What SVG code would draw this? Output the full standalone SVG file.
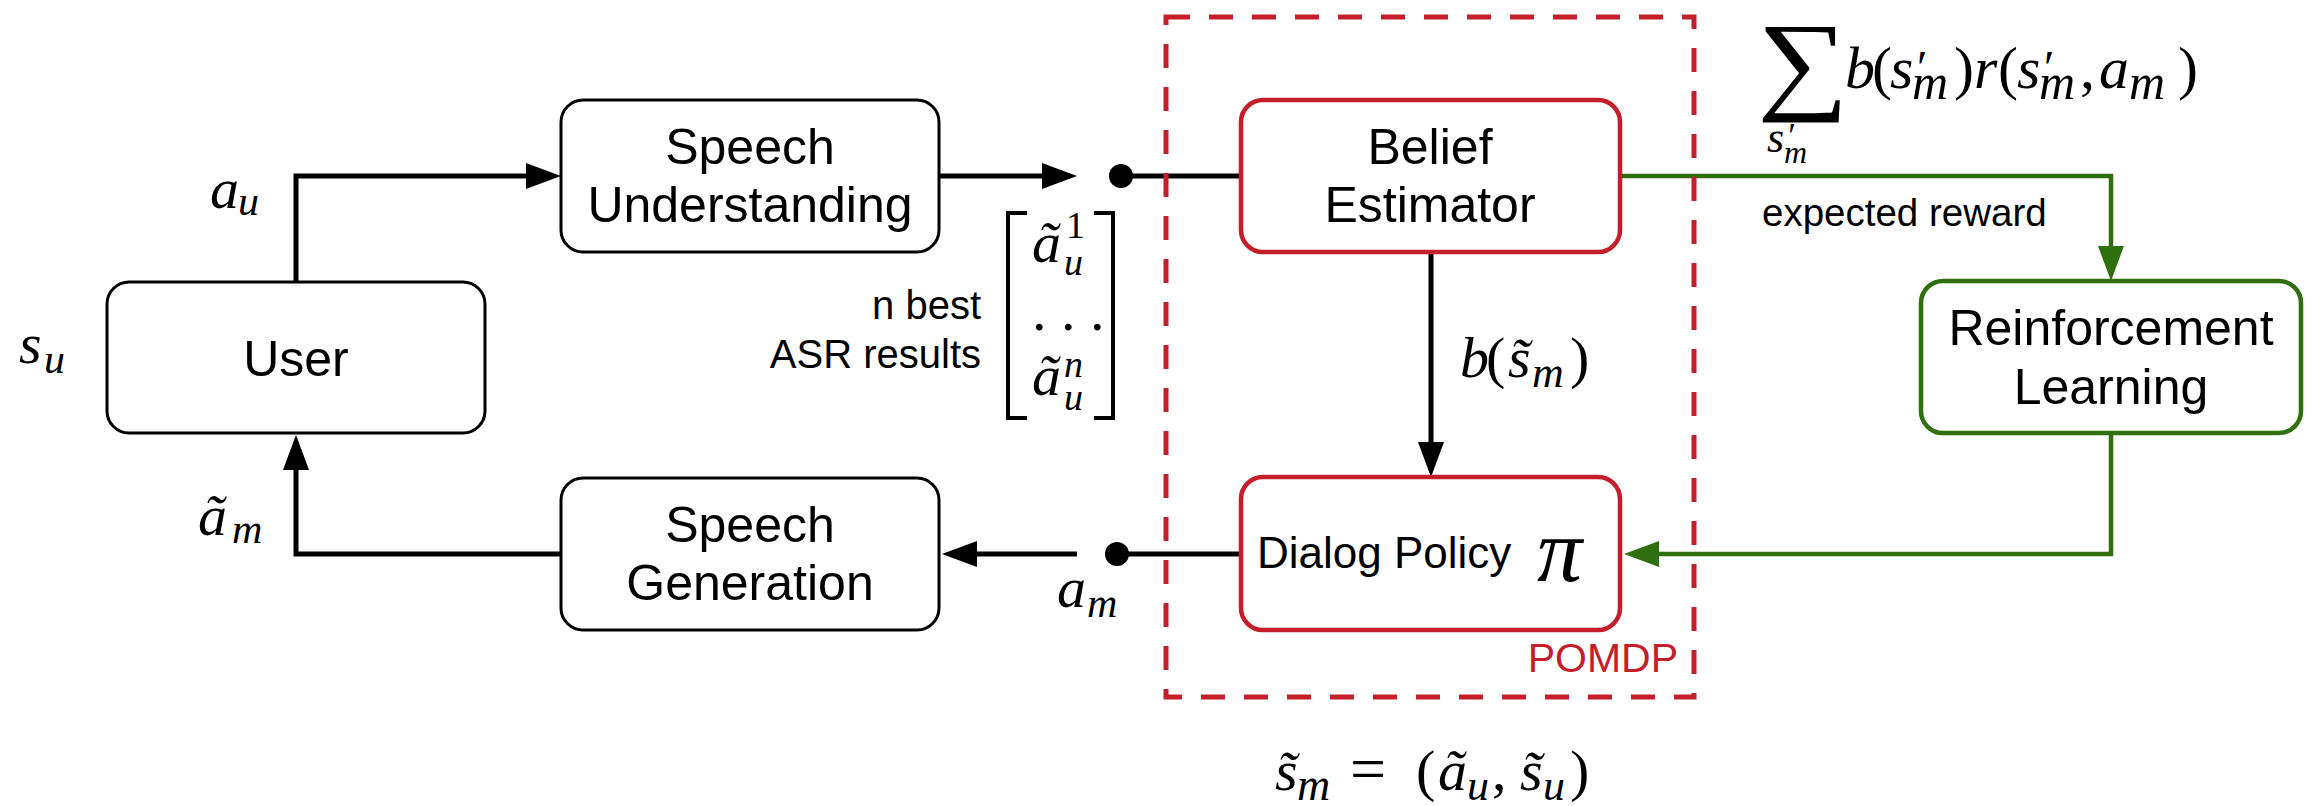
<svg xmlns="http://www.w3.org/2000/svg" width="2313" height="806" viewBox="0 0 2313 806">
<defs>
<style>
.box{fill:#fff;stroke:#000;stroke-width:3}
.rbox{fill:#fff;stroke:#C41E2A;stroke-width:4.5}
.gbox{fill:#fff;stroke:#2F6F0F;stroke-width:4.5}
.lbl{font-family:"Liberation Sans",Arial,sans-serif;font-size:50px;fill:#000;text-anchor:middle}
.sm{font-family:"Liberation Sans",Arial,sans-serif;font-size:40px;fill:#000}
.m{font-family:"Liberation Serif","Times New Roman",serif;font-style:italic;font-size:58px;fill:#000}
.f{font-size:60px}
.up{font-style:normal}
.sub{font-size:42px}
.k{fill:none;stroke:#000;stroke-width:5}
.g{fill:none;stroke:#2F6F0F;stroke-width:4.5}
</style>
<marker id="ab" markerUnits="userSpaceOnUse" markerWidth="36" markerHeight="26" refX="0" refY="13" orient="auto">
<path d="M0,0 L35,13 L0,26 z" fill="#000"/>
</marker>
<marker id="ag" markerUnits="userSpaceOnUse" markerWidth="36" markerHeight="26" refX="0" refY="13" orient="auto">
<path d="M0,0 L35,13 L0,26 z" fill="#2F6F0F"/>
</marker>
</defs>
<rect width="2313" height="806" fill="#fff"/>

<g id="connectors">
<path class="k" d="M296,282 V176 H526" marker-end="url(#ab)"/>
<path class="k" d="M940,176 H1042" marker-end="url(#ab)"/>
<path class="k" d="M1121,176 H1241"/>
<circle cx="1121" cy="176" r="12" fill="#000"/>
<path class="k" d="M1431,252 V442" marker-end="url(#ab)"/>
<path class="g" d="M1620,176 H2111 V246" marker-end="url(#ag)"/>
<path class="g" d="M2111,433 V554 H1659" marker-end="url(#ag)"/>
<path class="k" d="M1241,554 H1117"/>
<circle cx="1117" cy="554" r="12" fill="#000"/>
<path class="k" d="M1077,554 H977" marker-end="url(#ab)"/>
<path class="k" d="M561,554 H296 V470" marker-end="url(#ab)"/>
</g>

<g id="user">
<rect class="box" x="107" y="282" width="378" height="151" rx="22"/>
<text class="lbl" x="296" y="376">User</text>
</g>
<g id="speech-understanding">
<rect class="box" x="561" y="100" width="378" height="152" rx="22"/>
<text class="lbl" x="750" y="164">Speech</text>
<text class="lbl" x="750" y="222">Understanding</text>
</g>
<g id="speech-generation">
<rect class="box" x="561" y="478" width="378" height="152" rx="22"/>
<text class="lbl" x="750" y="542">Speech</text>
<text class="lbl" x="750" y="600">Generation</text>
</g>
<g id="belief-estimator">
<rect class="rbox" x="1241" y="100" width="379" height="152" rx="22"/>
<text class="lbl" x="1430" y="164">Belief</text>
<text class="lbl" x="1430" y="222">Estimator</text>
</g>
<g id="dialog-policy">
<rect class="rbox" x="1241" y="477" width="379" height="153" rx="22"/>
<text class="lbl" x="1257" y="568" style="font-size:44px;text-anchor:start">Dialog Policy</text>
<text class="m" x="1537" y="581" style="font-size:90px">π</text>
</g>
<g id="reinforcement-learning">
<rect class="gbox" x="1921" y="281" width="380" height="152" rx="22"/>
<text class="lbl" x="2111" y="345">Reinforcement</text>
<text class="lbl" x="2111" y="404">Learning</text>
</g>
<g id="pomdp">
<rect x="1166" y="17" width="528" height="680" fill="none" stroke="#C41E2A" stroke-width="5" stroke-dasharray="24 19"/>
<text class="sm" x="1678" y="672" style="font-size:41px;fill:#C41E2A;text-anchor:end">POMDP</text>
</g>

<g id="labels">
<text class="m" x="210" y="208">a<tspan class="sub" x="238" y="215">u</tspan></text>
<text class="m" x="19" y="363">s<tspan class="sub" x="44" y="373">u</tspan></text>
<text class="m" x="198" y="535">ã<tspan class="sub" x="232" y="543">m</tspan></text>
<text class="m" x="1057" y="607">a<tspan class="sub" x="1087" y="617">m</tspan></text>
<text class="m" x="1460" y="377">b<tspan class="up" x="1486">(</tspan><tspan x="1508">s̃</tspan><tspan class="sub" x="1532" y="387" style="font-size:44px">m</tspan><tspan class="up" x="1570" y="377">)</tspan></text>
<text class="sm" x="981" y="319" text-anchor="end">n best</text>
<text class="sm" x="981" y="368" text-anchor="end">ASR results</text>
<path class="k" d="M1027,213 H1008 V418 H1027 M1094,213 H1113 V418 H1094" style="stroke-width:4"/>
<text class="m" x="1032" y="262">ã</text>
<text class="m up" x="1066" y="238" style="font-size:38px">1</text>
<text class="m" x="1064" y="275" style="font-size:38px">u</text>
<text class="m up" x="1032" y="330">. . .</text>
<text class="m" x="1032" y="395">ã</text>
<text class="m" x="1064" y="377" style="font-size:38px">n</text>
<text class="m" x="1064" y="410" style="font-size:38px">u</text>
<text class="sm" x="1762" y="226" style="font-size:38.5px">expected reward</text>
<text class="m up" transform="translate(1757,99) scale(1.17,1)" x="0" y="0" style="font-size:110px">∑</text>
<text class="m" x="1767" y="152" style="font-size:44px">s<tspan x="1786" y="148" style="font-size:36px">′</tspan><tspan x="1784" y="163" style="font-size:32px">m</tspan></text>
<text class="m f" x="1845" y="88">b<tspan class="up" x="1872">(</tspan><tspan x="1890">s</tspan><tspan x="1914" y="84" style="font-size:48px">′</tspan><tspan x="1912" y="99" style="font-size:50px">m</tspan><tspan class="up" x="1954" y="88">)</tspan><tspan x="1974">r</tspan><tspan class="up" x="1998">(</tspan><tspan x="2017">s</tspan><tspan x="2041" y="84" style="font-size:48px">′</tspan><tspan x="2039" y="99" style="font-size:50px">m</tspan><tspan class="up" x="2080" y="88">,</tspan><tspan x="2099">a</tspan><tspan x="2129" y="99" style="font-size:50px">m</tspan><tspan class="up" x="2178" y="88">)</tspan></text>
<text class="m" x="1275" y="790">s̃<tspan x="1297" y="800" style="font-size:46px">m</tspan><tspan class="up" x="1350" y="790" style="font-size:64px">=</tspan><tspan class="up" x="1416">(</tspan><tspan x="1438">ã</tspan><tspan class="sub" x="1467" y="800" style="font-size:44px">u</tspan><tspan class="up" x="1492" y="790">,</tspan><tspan x="1520">s̃</tspan><tspan class="sub" x="1543" y="800" style="font-size:44px">u</tspan><tspan class="up" x="1570" y="790">)</tspan></text>
</g>
</svg>
